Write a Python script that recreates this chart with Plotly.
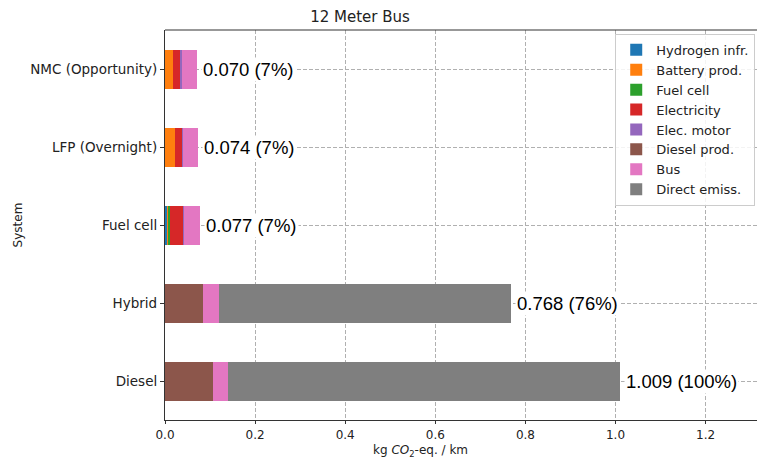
import plotly.graph_objects as go

systems = ["Diesel", "Hybrid", "Fuel cell", "LFP (Overnight)", "NMC (Opportunity)"]
components = ["Hydrogen infr.", "Battery prod.", "Fuel cell", "Electricity",
              "Elec. motor", "Diesel prod.", "Bus", "Direct emiss."]
colors = ["#1f77b4", "#ff7f0e", "#2ca02c", "#d62728",
          "#9467bd", "#8c564b", "#e377c2", "#7f7f7f"]

hydrogen_infr = [0.0, 0.0, 0.005, 0.0, 0.0]
battery_prod = [0.0, 0.0, 0.002, 0.023, 0.018]
fuel_cell = [0.0, 0.0, 0.003, 0.0, 0.0]
electricity = [0.0, 0.0, 0.031, 0.016, 0.017]
elec_motor = [0.0, 0.0, 0.002, 0.002, 0.002]
diesel_prod = [0.107, 0.085, 0.0, 0.0, 0.0]
bus = [0.033, 0.035, 0.034, 0.033, 0.033]
direct_emiss = [0.869, 0.648, 0.0, 0.0, 0.0]

# percentages as printed on the reference labels
pct_labels = [100, 76, 7, 7, 7]

series = [hydrogen_infr, battery_prod, fuel_cell, electricity,
          elec_motor, diesel_prod, bus, direct_emiss]

totals = [sum(v[i] for v in series) for i in range(len(systems))]

fig = go.Figure()
for name, vals, col in zip(components, series, colors):
    fig.add_trace(go.Bar(
        y=systems, x=vals, name=name, orientation="h",
        marker=dict(color=col, line=dict(width=0)),
        width=0.5,
    ))

for s, t, p in zip(systems, totals, pct_labels):
    fig.add_annotation(
        x=t, y=s, xref="x", yref="y",
        text=f"{t:.3f} ({p}%)",
        showarrow=False, xanchor="left", yanchor="middle", xshift=4,
        bgcolor="white", borderpad=1,
        font=dict(family="Liberation Sans, Arial", size=18.5, color="black"),
    )

# x-axis title (offset like the reference)
fig.add_annotation(
    x=0.431, y=-0.079, xref="paper", yref="paper",
    text="kg <i>CO</i><sub>2</sub>-eq. / km", showarrow=False,
    xanchor="center", yanchor="middle",
    font=dict(family="DejaVu Sans", size=12, color="#222"),
)

# top border
fig.add_shape(type="line", xref="paper", yref="paper", x0=0, x1=1, y0=1, y1=1,
              line=dict(color="#333", width=1.2))

fig.update_layout(
    barmode="stack",
    width=757, height=462,
    margin=dict(l=165, r=0, t=30, b=42, autoexpand=False),
    paper_bgcolor="white", plot_bgcolor="white",
    font=dict(family="DejaVu Sans", size=12, color="#222"),
    title=dict(text="12 Meter Bus", x=0.4756, xanchor="center",
               y=0.963, yanchor="middle",
               font=dict(family="DejaVu Sans", size=15, color="#222")),
    legend=dict(
        x=0.997, y=0.99, xanchor="right", yanchor="top",
        bgcolor="rgba(255,255,255,0.85)", bordercolor="#cccccc", borderwidth=1,
        font=dict(family="DejaVu Sans", size=13, color="#222"),
        traceorder="normal", tracegroupgap=0, itemwidth=30,
    ),
    bargap=0.5,
)

fig.update_xaxes(
    range=[0, 1.314], tickvals=[0, 0.2, 0.4, 0.6, 0.8, 1.0, 1.2],
    ticktext=["0.0", "0.2", "0.4", "0.6", "0.8", "1.0", "1.2"],
    showgrid=True, gridcolor="#b0b0b0", griddash="4px,2px", gridwidth=1,
    showline=True, linecolor="#333", linewidth=1.2,
    ticks="outside", ticklen=3, tickcolor="#333",
    tickfont=dict(family="DejaVu Sans", size=12, color="#222"),
    zeroline=False, automargin=False,
)
fig.update_yaxes(
    range=[-0.5, 4.5],
    title=dict(text="System", standoff=4,
               font=dict(family="DejaVu Sans", size=12, color="#222")),
    showgrid=True, gridcolor="#b0b0b0", griddash="4px,2px", gridwidth=1,
    showline=True, linecolor="#333", linewidth=1.2,
    ticks="outside", ticklen=4, tickcolor="#333",
    tickfont=dict(family="DejaVu Sans", size=13.5, color="#222"),
    automargin=False,
)

fig.write_html("out.html",
               config={"displayModeBar": False},
               post_script="document.body.style.margin='0';document.body.style.overflow='hidden';")
